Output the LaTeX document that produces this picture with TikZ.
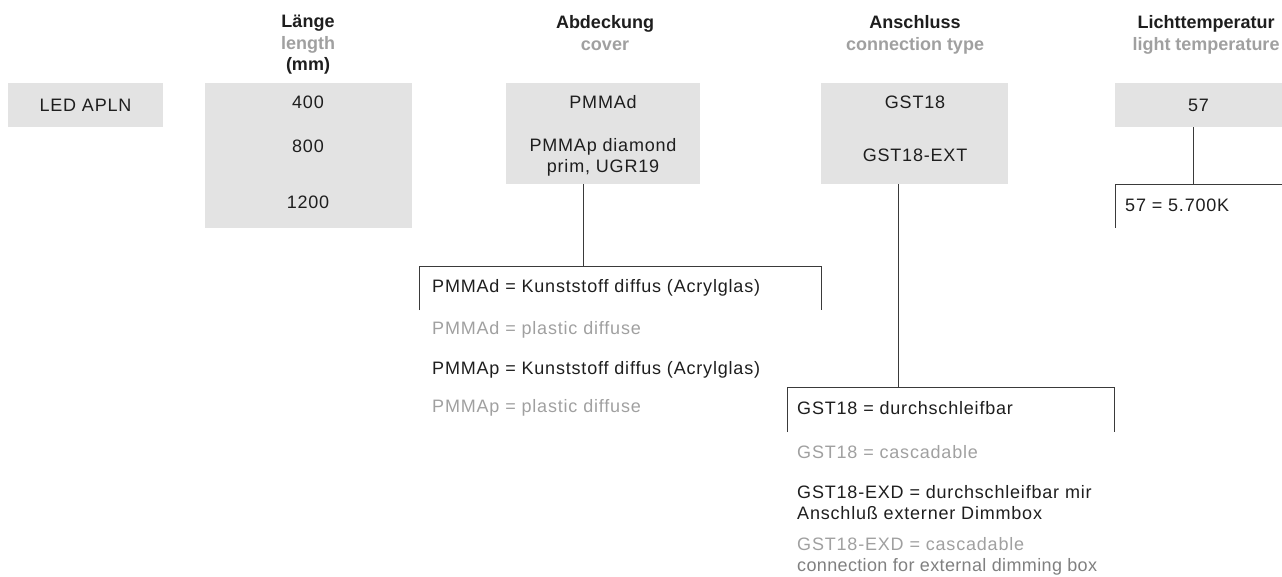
\documentclass[tikz,border=0pt]{standalone}
\usepackage{fontspec}
\setmainfont{Liberation Sans}[LetterSpace=4.5]
\usetikzlibrary{positioning}
\definecolor{boxgray}{HTML}{E3E3E3}
\definecolor{engray}{HTML}{A0A0A0}
\definecolor{txtblack}{HTML}{1E1E1E}
\definecolor{linegray}{HTML}{3A3A3A}

\begin{document}
\begin{tikzpicture}[x=1pt,y=-1pt,
  font=\fontsize{18}{21}\selectfont, text=txtblack,
  box/.style={fill=boxgray, inner sep=0pt},
  head/.style={anchor=north, align=center, font=\fontsize{18}{21.5}\selectfont\bfseries\addfontfeature{LetterSpace=0}},
  val/.style={inner sep=0pt},
  note/.style={anchor=west, inner sep=0pt, align=left},
  en/.style={text=engray},
  conn/.style={draw=linegray, line width=0.9pt}]
\useasboundingbox (0,0) rectangle (1282,577);

% headings
\node[head] (hlen) at (308,12) {Länge\\{\color{engray}length}\\(mm)};
\node[head] (hcov) at (605,12) {Abdeckung\\{\color{engray}cover}};
\node[head] (hcon) at (915,12) {Anschluss\\{\color{engray}connection type}};
\node[head] (htmp) at (1206,12) {Lichttemperatur\\{\color{engray}light temperature}};

% grey boxes
\node[box, minimum width=155pt, minimum height=44pt] (led) at (85.5,105) {LED APLN};
\node[box, minimum width=207pt, minimum height=145pt] (len) at (308.5,155.5) {};
\node[box, minimum width=194pt, minimum height=101pt] (cov) at (603,133.5) {};
\node[box, minimum width=187pt, minimum height=101pt] (con) at (914.5,133.5) {};
\node[box, minimum width=167pt, minimum height=44pt] (tmp) at (1198.5,105) {57};

% values in the boxes
\node[val] (l400) at (308,102) {400};
\node[val] (l800) at (308,146) {800};
\node[val] (l1200) at (308,202) {1200};
\node[val] (cpd) at (603,102) {PMMAd};
\node[val, align=center] (cpp) at (603,157) {PMMAp diamond\\prim, UGR19};
\node[val] (gst) at (915,102) {GST18};
\node[val] (gext) at (915,155) {GST18-EXT};

% brackets
\coordinate (covT) at (583,266);
\coordinate (covL) at (419,266);
\coordinate (covR) at (821,266);
\coordinate (covLb) at (419,310);
\coordinate (covRb) at (821,310);
\coordinate (conT) at (898,387);
\coordinate (conL) at (787,387);
\coordinate (conR) at (1114,387);
\coordinate (conLb) at (787,432);
\coordinate (conRb) at (1114,432);
\coordinate (tmpT) at (1193,184);
\coordinate (tmpL) at (1115,184);
\coordinate (tmpR) at (1282,184);
\coordinate (tmpLb) at (1115,228);

\draw[conn] (cov.south -| covT) -- (covT);
\draw[conn] (covLb) -- (covL) -- (covR) -- (covRb);
\draw[conn] (con.south -| conT) -- (conT);
\draw[conn] (conLb) -- (conL) -- (conR) -- (conRb);
\draw[conn] (tmp.south -| tmpT) -- (tmpT);
\draw[conn] (tmpLb) -- (tmpL) -- (tmpR);

% explanations
\node[note] (npd) at (432,288) {PMMAd = Kunststoff diffus (Acrylglas)};
\node[note, en] (npde) at (432,330) {PMMAd = plastic diffuse};
\node[note] (npp) at (432,370) {PMMAp = Kunststoff diffus (Acrylglas)};
\node[note, en] (nppe) at (432,408) {PMMAp = plastic diffuse};
\node[note] (ngst) at (797,408) {GST18 = durchschleifbar};
\node[note, en] (ngste) at (797,452) {GST18 = cascadable};
\node[note] (nexd) at (797,502.5) {GST18-EXD = durchschleifbar mir\\Anschluß externer Dimmbox};
\node[note, en] (nexde) at (797,556) {GST18-EXD = cascadable\\{\color{engray!80!black}\addfontfeature{LetterSpace=2}connection for external dimming box}};
\node[note] (ntmp) at (1125,205) {57 = 5.700K};
\end{tikzpicture}
\end{document}
